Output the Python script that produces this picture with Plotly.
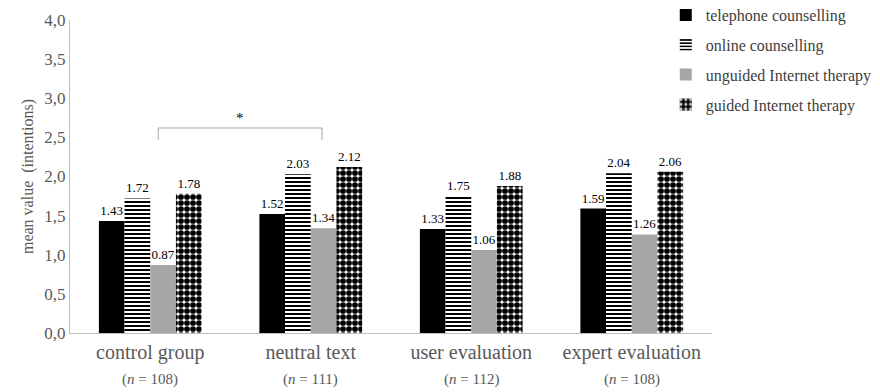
import plotly.graph_objects as go

categories = ["control group", "neutral text", "user evaluation", "expert evaluation"]
group_n = [108, 111, 112, 108]
series_names = ["telephone counselling", "online counselling",
                "unguided Internet therapy", "guided Internet therapy"]
telephone = [1.43, 1.52, 1.33, 1.59]
online = [1.72, 2.03, 1.75, 2.04]
unguided = [0.87, 1.34, 1.06, 1.26]
guided = [1.78, 2.12, 1.88, 2.06]
y_ticks = [0, 0.5, 1.0, 1.5, 2.0, 2.5, 3.0, 3.5, 4.0]
y_ticklabels = ["0,0", "0,5", "1,0", "1,5", "2,0", "2,5", "3,0", "3,5", "4,0"]
sig_pair = (0, 1)
sig_level = 2.62

SERIF = "Liberation Serif, Times New Roman, serif"
GRAY_TXT = "#595959"

styles = [
    dict(color="#000000"),
    dict(color="#ffffff", pattern=dict(shape="-", fgcolor="#000000", bgcolor="#ffffff",
                                       size=4, solidity=0.5, fillmode="replace")),
    dict(color="#a6a6a6"),
    dict(color="#ffffff", pattern=dict(shape=".", fgcolor="#000000", bgcolor="#ffffff",
                                       size=6, solidity=0.72, fillmode="replace")),
]

fig = go.Figure()
for i, (name, vals) in enumerate(zip(series_names, [telephone, online, unguided, guided])):
    fig.add_trace(go.Bar(
        x=categories, y=vals, name=name, legendgroup=f"g{i}",
        marker=dict(line=dict(width=0), **styles[i]),
        text=[f"{v:.2f}" for v in vals], textposition="outside",
        textfont=dict(family=SERIF, size=13, color="#000000"),
        cliponaxis=False,
    ))

# sample sizes below category labels
for c, n in zip(categories, group_n):
    fig.add_annotation(x=c, y=-0.147, xref="x", yref="paper", showarrow=False,
                       text=f"(<i>n</i> = {n})", yanchor="middle",
                       font=dict(family=SERIF, size=15, color=GRAY_TXT))

# significance bracket
x0 = sig_pair[0] + 0.05
x1 = sig_pair[1] + 0.07
fig.add_shape(type="path", xref="x", yref="y",
              path=f"M {x0},{sig_level-0.15} L {x0},{sig_level} L {x1},{sig_level} L {x1},{sig_level-0.15}",
              line=dict(color="#a6a6a6", width=1))
fig.add_annotation(x=(x0 + x1) / 2, y=sig_level, xref="x", yref="y", text="*",
                   showarrow=False, yanchor="bottom", yshift=0,
                   font=dict(family=SERIF, size=15, color="#000000"))

fig.update_layout(
    width=880, height=392,
    margin=dict(l=70, r=168, t=20, b=59, autoexpand=False),
    paper_bgcolor="white", plot_bgcolor="white",
    barmode="group", bargap=0.36, bargroupgap=0,
    font=dict(family=SERIF, color=GRAY_TXT),
    legend=dict(x=0.928, y=1.07, xanchor="left", yanchor="top",
                font=dict(family=SERIF, size=16, color="#404040"),
                tracegroupgap=6, itemwidth=30, bgcolor="rgba(0,0,0,0)"),
    xaxis=dict(tickmode="array", tickvals=categories, ticktext=categories,
               tickfont=dict(family=SERIF, size=20, color=GRAY_TXT),
               showline=True, linecolor="#bfbfbf", linewidth=1, ticks="",
               ticklabelstandoff=1, showgrid=False),
    yaxis=dict(range=[0, 4], tickmode="array", tickvals=y_ticks, ticktext=y_ticklabels,
               tickfont=dict(family=SERIF, size=17, color=GRAY_TXT),
               showline=True, linecolor="#bfbfbf", linewidth=1, ticks="",
               showgrid=False, zeroline=False,
               title=dict(text="mean value  (intentions)", standoff=6,
                          font=dict(family=SERIF, size=16, color=GRAY_TXT))),
)

fig.write_html("out.html")
